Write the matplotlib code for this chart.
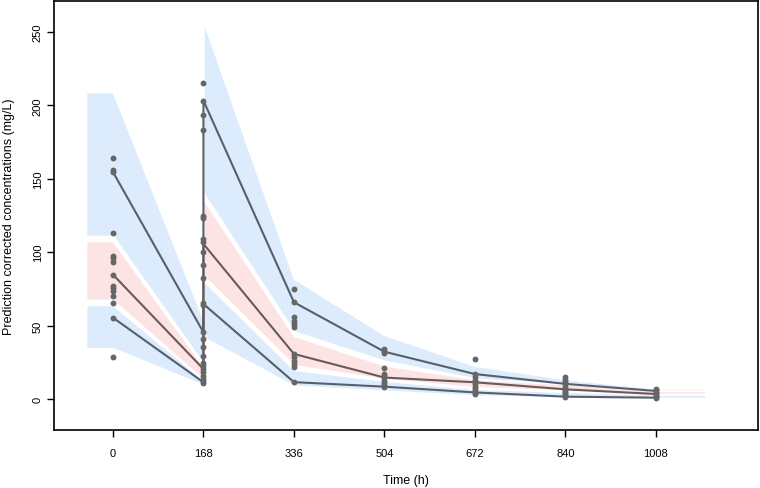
import matplotlib
matplotlib.use("Agg")
import matplotlib.pyplot as plt

plt.rcParams["font.family"] = ["Liberation Sans", "DejaVu Sans"]

# nominal times (h)
times = [0, 168, 336, 504, 672, 840, 1008]

# observed prediction-corrected concentrations per time
obs_0 = [164.4, 156.2, 154.6, 112.9, 97.6, 95.8, 93.1, 84.7, 77.2, 75.4, 73.8, 70.0, 65.4, 55.4, 28.4]
obs_168 = [215.5, 203.2, 193.5, 183.4, 124.9, 123.1, 109.0, 107.2, 99.9, 91.5, 82.4, 65.4, 64.0,
           45.4, 41.0, 35.2, 29.3, 24.5, 22.7, 20.4, 18.2, 15.9, 13.6, 12.0, 11.0]
obs_336 = [74.9, 65.9, 55.6, 53.3, 51.1, 48.8, 30.7, 28.4, 26.1, 23.8, 21.6, 11.5]
obs_504 = [34.0, 32.5, 31.0, 20.9, 17.0, 15.5, 14.0, 12.5, 11.0, 9.5, 8.2]
obs_672 = [27.2, 17.0, 15.0, 13.0, 11.5, 10.0, 8.5, 7.0, 5.5, 4.0, 3.4]
obs_840 = [14.8, 13.0, 11.5, 10.0, 8.5, 7.0, 6.0, 5.0, 4.0, 3.0, 2.0, 1.2]
obs_1008 = [6.8, 6.0, 5.0, 4.0, 3.0, 2.0, 1.2, 0.7]
obs_all = [obs_0, obs_168, obs_336, obs_504, obs_672, obs_840, obs_1008]

# observed percentile lines (pre- and post-dose at 168 h)
line_x = [0, 168, 168, 336, 504, 672, 840, 1008]
p95 = [154.6, 45.4, 203.2, 65.9, 32.2, 17.0, 10.3, 5.5]
p50 = [84.7, 20.4, 105.6, 30.7, 14.6, 11.4, 6.6, 3.4]
p05 = [55.4, 11.4, 64.7, 11.5, 8.4, 4.5, 1.6, 0.9]

# simulated 95% CI bands of the percentiles
band_x = [-50, 0, 168, 168, 336, 504, 672, 840, 1008, 1100]
hi_upper = [209, 209, 54, 257, 82, 43.6, 22.7, 13.6, 7.3, 7.3]
hi_lower = [111, 111, 24, 140, 46, 26, 14, 9, 5.9, 5.9]
med_upper = [107.6, 107.6, 22, 136, 43, 23, 13.6, 10.2, 5.7, 5.7]
med_lower = [67.4, 67.4, 13, 84, 23, 13.6, 8, 5.7, 3.4, 3.4]
lo_upper = [64, 64, 13, 80.6, 20, 12.5, 7, 5, 3.2, 3.2]
lo_lower = [34.5, 34.5, 9.5, 42, 9, 5.7, 2.3, 1.2, 0.7, 0.7]

blue = "#dcecfc"
pink = "#fde4e4"

fig = plt.figure(figsize=(7.6, 4.89), dpi=100)
ax = fig.add_axes([0.071, 0.1186, 0.926, 0.8773])

ax.fill_between(band_x, hi_lower, hi_upper, facecolor=blue, edgecolor="white", lw=1.2, zorder=1)
ax.fill_between(band_x, lo_lower, lo_upper, facecolor=blue, edgecolor="white", lw=1.2, zorder=1)
ax.fill_between(band_x, med_lower, med_upper, facecolor=pink, edgecolor="white", lw=1.2, zorder=2)

for t, vals in zip(times, obs_all):
    ax.scatter([t] * len(vals), vals, s=18, color="#666666", linewidths=0, zorder=4)

ax.plot(line_x, p95, color="#55606c", lw=1.5, zorder=3)
ax.plot(line_x, p05, color="#55606c", lw=1.5, zorder=3)
ax.plot(line_x, p50, color="#6b5858", lw=1.5, zorder=3)

ax.set_xlim(-109.5, 1197)
ax.set_ylim(-21.1, 271)
ax.set_xticks(times)
ax.set_xticklabels([str(t) for t in times])
ax.set_yticks([0, 50, 100, 150, 200, 250])
ax.set_yticklabels(["0", "50", "100", "150", "200", "250"], rotation=90, va="center")

ax.tick_params(axis="both", direction="out", length=5, width=1, labelsize=8, colors="black")
ax.tick_params(axis="x", pad=8)
ax.tick_params(axis="y", pad=3)
for s in ax.spines.values():
    s.set_linewidth(1.2)

ax.set_xlabel("Time (h)", fontsize=9)
ax.set_ylabel("Prediction corrected concentrations (mg/L)", fontsize=9)
ax.xaxis.set_label_coords(0.5, -0.102)
ax.yaxis.set_label_coords(-0.0555, 0.5)

fig.savefig("out.png", dpi=100)
